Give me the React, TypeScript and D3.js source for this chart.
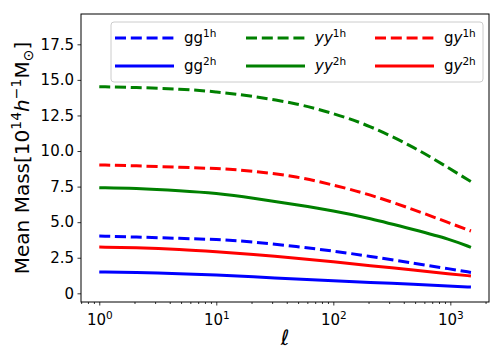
import { useEffect, useRef } from 'react';
import { select, scaleLog, scaleLinear, line, axisBottom, axisLeft, curveBasis } from 'd3';

const ells = [1, 2, 5, 10, 20, 50, 100, 200, 500, 1000, 1500];

const gg1h = [4.03, 3.96, 3.86, 3.79, 3.63, 3.28, 2.97, 2.62, 2.1, 1.71, 1.47];
const gg2h = [1.5, 1.47, 1.38, 1.29, 1.17, 1.0, 0.89, 0.77, 0.63, 0.51, 0.44];
const yy1h = [14.52, 14.47, 14.36, 14.17, 13.87, 13.33, 12.65, 11.83, 10.24, 8.74, 7.85];
const yy2h = [7.42, 7.38, 7.21, 7.03, 6.72, 6.2, 5.8, 5.3, 4.45, 3.8, 3.23];
const gy1h = [9.02, 8.97, 8.85, 8.78, 8.62, 8.2, 7.61, 6.98, 5.85, 4.92, 4.38];
const gy2h = [3.25, 3.21, 3.09, 2.92, 2.74, 2.46, 2.22, 1.94, 1.64, 1.36, 1.22];

const yTicks = [0, 2.5, 5, 7.5, 10, 12.5, 15, 17.5];
const xTicks = [1, 10, 100, 1000];

const series = [
    { name: 'gg', sup: '1h', values: gg1h, color: '#0000ff', dashed: true },
    { name: 'gg', sup: '2h', values: gg2h, color: '#0000ff', dashed: false },
    { name: 'yy', sup: '1h', values: yy1h, color: '#008000', dashed: true },
    { name: 'yy', sup: '2h', values: yy2h, color: '#008000', dashed: false },
    { name: 'gy', sup: '1h', values: gy1h, color: '#ff0000', dashed: true },
    { name: 'gy', sup: '2h', values: gy2h, color: '#ff0000', dashed: false },
];

const FONT = 'DejaVu Sans, sans-serif';

function App() {
    const svgRef = useRef(null);
    const width = 504;
    const height = 360;
    var margin = { top: 14, bottom: 58, left: 81, right: 15 };

    useEffect(() => {
        const x = scaleLog()
            .domain([0.698, 2140])
            .range([margin.left, width - margin.right]);
        const y = scaleLinear()
            .domain([-0.61, 19.63])
            .range([height - margin.bottom, margin.top]);

        const svg = select(svgRef.current);
        svg.selectAll('*').remove();

        // minor ticks on the log axis
        const minor = [];
        for (let d = 0.1; d <= 1000; d *= 10) {
            for (let k = 2; k <= 9; k++) {
                const v = Math.round(d * k * 1000) / 1000;
                if (v >= 0.698 && v <= 2140) minor.push(v);
            }
        }

        const xAxisMinor = svg.append('g')
            .attr('transform', `translate(0, ${height - margin.bottom})`)
            .call(axisBottom(x).tickValues(minor).tickSize(2).tickFormat(() => '').tickSizeOuter(0));
        xAxisMinor.select('.domain').remove();

        const xAxis = svg.append('g')
            .attr('transform', `translate(0, ${height - margin.bottom})`)
            .call(axisBottom(x).tickValues(xTicks).tickSize(3.5).tickSizeOuter(0).tickFormat(() => ''));
        xAxis.select('.domain').remove();
        xAxis.selectAll('.tick').each(function (d) {
            const t = select(this).append('text')
                .attr('y', 23)
                .attr('fill', '#000')
                .attr('text-anchor', 'middle')
                .style('font-family', FONT)
                .style('font-size', '15px');
            t.append('tspan').text('10');
            t.append('tspan').attr('dy', -6).style('font-size', '10.5px').text(String(Math.round(Math.log10(d))));
        });

        const yAxis = svg.append('g')
            .attr('transform', `translate(${margin.left}, 0)`)
            .call(axisLeft(y).tickValues(yTicks).tickSize(3.5).tickSizeOuter(0)
                .tickFormat(d => (d === 0 ? '0' : d.toFixed(1))));
        yAxis.select('.domain').remove();
        yAxis.selectAll('text')
            .style('font-family', FONT)
            .style('font-size', '15px')
            .attr('x', -7);

        svg.selectAll('.tick line').attr('stroke-width', 0.8);

        // curves
        const path = line().x(d => x(d[0])).y(d => y(d[1])).curve(curveBasis);
        series.forEach(s => {
            svg.append('path')
                .datum(ells.map((l, i) => [l, s.values[i]]))
                .attr('d', path)
                .attr('fill', 'none')
                .attr('stroke', s.color)
                .attr('stroke-width', 3)
                .attr('stroke-dasharray', s.dashed ? '11,4.8' : null);
        });

        // frame
        svg.append('rect')
            .attr('x', margin.left)
            .attr('y', margin.top)
            .attr('width', width - margin.left - margin.right)
            .attr('height', height - margin.top - margin.bottom)
            .attr('fill', 'none')
            .attr('stroke', '#000')
            .attr('stroke-width', 1);

        // legend
        const lg = svg.append('g');
        lg.append('rect')
            .attr('x', 111).attr('y', 22)
            .attr('width', 372).attr('height', 60)
            .attr('rx', 3)
            .attr('fill', 'rgba(255,255,255,0.8)')
            .attr('stroke', '#cccccc');
        const colX = [115, 246, 375];
        const rowY = [38, 66];
        series.forEach((s, i) => {
            const col = Math.floor(i / 2);
            const row = i % 2;
            const lx = colX[col];
            const ly = rowY[row];
            lg.append('line')
                .attr('x1', lx).attr('x2', lx + 59)
                .attr('y1', ly).attr('y2', ly)
                .attr('stroke', s.color)
                .attr('stroke-width', 3)
                .attr('stroke-dasharray', s.dashed ? '11,4.8' : null);
            const t = lg.append('text')
                .attr('x', lx + 69)
                .attr('y', ly + 5)
                .style('font-family', FONT)
                .style('font-size', '15px');
            // mathtext: y is italic, g upright
            s.name.split('').forEach(c => {
                t.append('tspan').style('font-style', c === 'y' ? 'italic' : 'normal').text(c);
            });
            t.append('tspan').attr('dy', -6).style('font-size', '10.5px').text(s.sup);
        });

        // axis labels
        svg.append('text')
            .attr('x', (margin.left + width - margin.right) / 2)
            .attr('y', 345)
            .attr('text-anchor', 'middle')
            .style('font-family', FONT)
            .style('font-size', '21px')
            .style('font-style', 'italic')
            .text('ℓ');

        const yl = svg.append('text')
            .attr('transform', `translate(29, ${(margin.top + height - margin.bottom) / 2}) rotate(-90)`)
            .attr('text-anchor', 'middle')
            .style('font-family', FONT)
            .style('font-size', '20px');
        yl.append('tspan').text('Mean Mass[10');
        yl.append('tspan').attr('dy', -8).style('font-size', '14px').text('14');
        yl.append('tspan').attr('dy', 8).style('font-style', 'italic').text('h');
        yl.append('tspan').attr('dy', -8).style('font-size', '14px').text('−1');
        yl.append('tspan').attr('dy', 8).text('M');
        yl.append('tspan').attr('dy', 4).style('font-size', '14px').text('⊙');
        yl.append('tspan').attr('dy', -4).text(']');
    }, []);

    return (
        <svg ref={svgRef} width={width} height={height}
            style={{ position: 'absolute', left: 0, top: 0, background: '#fff' }}></svg>
    );
}

export default App;
